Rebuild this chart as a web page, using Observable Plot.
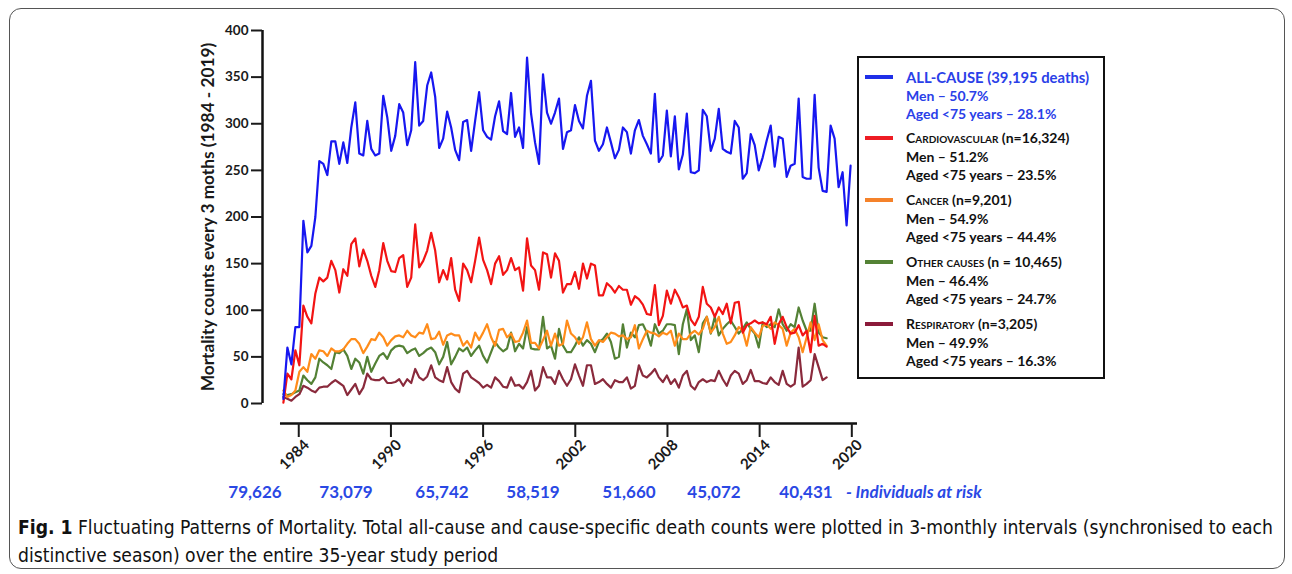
<!DOCTYPE html>
<html><head><meta charset="utf-8">
<script src="https://cdn.jsdelivr.net/npm/d3@7"></script>
<script src="https://cdn.jsdelivr.net/npm/@observablehq/plot@0.6"></script>
<style>
html,body{margin:0;padding:0;background:#fff;}
#fig{position:relative;width:1292px;height:574px;overflow:hidden;font-family:Lato,"Open Sans",sans-serif;color:#111;}
#border{position:absolute;left:9px;top:8px;width:1276px;height:561px;border:1px solid #555;border-radius:12px;box-sizing:border-box;}
#chart{position:absolute;left:0;top:0;}
#chart svg [aria-label$="tick label"] text{font-weight:700;}
#legend{position:absolute;left:857px;top:56px;width:248px;height:323px;border:2.5px solid #111;box-sizing:border-box;}
.lg{position:absolute;white-space:nowrap;font-weight:700;font-size:14px;line-height:18px;}
.sw{position:absolute;width:28px;height:4px;}
.risk{position:absolute;top:481px;font-weight:700;font-size:17px;line-height:22px;color:#2a48e4;white-space:nowrap;}
.cap{position:absolute;left:18px;font-family:"Liberation Sans Narrow","DejaVu Sans Condensed",sans-serif;font-size:19px;line-height:22px;white-space:nowrap;transform-origin:0 0;color:#111;}
</style></head>
<body>
<div id="fig">
  <div id="border"></div>
  <div id="chart"></div>
  <div id="legend"></div>
</div>
<script>
// ---- data (3-monthly death counts) ----
const allCause = [5,60,42,82,82,196,162,169,200,260,257,245,281,281,257,280,258,296,323,268,266,303,273,266,
268,330,307,271,287,321,312,277,293,366,298,303,341,355,329,274,284,313,296,272,261,302,304,271,
303,334,293,286,283,308,324,292,289,333,286,296,274,371,311,280,257,353,312,300,312,327,273,291,
293,320,303,295,330,346,282,271,278,296,280,263,272,296,291,268,293,304,287,278,268,332,259,266,
314,265,308,251,267,311,248,247,250,315,308,271,284,316,273,270,268,303,296,241,247,289,277,250,
264,282,298,254,286,284,243,255,257,327,243,241,241,331,253,228,227,298,284,232,248,191,255];
const cardiovascular = [1,32,26,57,41,105,93,86,118,135,131,135,153,143,119,144,137,171,177,147,165,153,137,125,
143,172,153,142,141,156,159,125,135,192,146,153,164,183,164,130,143,133,156,122,110,150,143,130,
153,178,154,143,128,150,158,138,143,156,143,146,121,177,148,143,122,162,160,135,161,153,119,128,
128,141,123,150,134,150,148,116,116,129,125,119,126,122,122,106,115,112,106,96,95,127,84,94,
121,107,122,114,103,105,90,84,93,125,107,103,93,103,96,107,86,108,109,76,84,86,89,86,
87,85,93,64,85,93,82,75,76,84,73,78,55,94,62,64,61];
const cancer = [14,7,9,14,34,39,34,53,48,57,56,51,59,56,56,58,64,69,69,64,54,61,69,68,
76,71,62,68,72,73,71,78,73,71,76,75,85,69,70,77,63,73,75,73,73,62,67,60,
76,68,76,85,71,62,79,80,71,75,66,67,76,89,65,65,59,68,78,62,75,62,64,89,
75,71,64,71,87,69,62,68,66,71,76,75,72,73,69,71,84,59,69,78,76,75,72,76,
74,78,62,75,69,69,75,78,74,80,93,76,82,93,75,64,66,73,82,78,62,82,76,71,
83,85,80,87,84,80,62,76,80,71,55,71,87,68,85,68,62];
const otherCauses = [10,9,10,12,14,30,25,21,28,48,44,41,37,55,54,58,51,37,48,44,32,50,34,43,
51,54,48,57,61,62,61,54,57,59,51,54,58,60,55,42,50,66,42,50,59,56,60,51,
57,62,51,44,55,66,60,56,59,76,56,64,59,82,59,58,58,93,59,62,48,80,62,55,
55,62,71,62,68,64,55,66,69,75,66,48,50,85,60,76,71,84,85,76,62,85,75,78,
85,85,84,53,85,101,68,73,55,86,93,75,93,73,80,85,89,82,75,80,87,80,75,60,
87,82,85,82,101,85,78,85,82,103,89,78,78,107,76,71,70];
const respiratory = [7,5,3,7,10,19,17,14,12,17,18,18,22,25,22,19,9,15,21,10,17,32,26,25,
25,28,22,22,23,26,19,26,22,37,28,25,29,41,28,25,23,39,23,16,12,32,35,28,
25,22,17,20,17,28,24,18,17,28,19,20,16,23,35,14,19,39,28,28,21,35,26,19,
26,42,30,19,41,41,21,23,26,21,17,25,23,23,28,16,19,41,30,28,32,37,28,23,
30,21,26,17,30,35,19,15,23,26,23,25,24,35,26,19,30,35,32,21,25,36,24,24,
22,21,28,23,20,35,21,18,21,60,18,21,25,53,39,25,28];

const seriesNames = ["Respiratory","Other causes","Cancer","Cardiovascular","All-cause"];
const seriesColors = ["#8a2a3c","#538135","#ff8c1a","#f21414","#1717f0"];
const yTicks = [0,50,100,150,200,250,300,350,400];
const xTickYears = [1984,1990,1996,2002,2008,2014,2020];
const riskLabels = ["79,626","73,079","65,742","58,519","51,660","45,072","40,431"];
const riskSuffix = "- Individuals at risk";
const yLabel = "Mortality counts every 3 moths (1984 - 2019)";

const legendTitles = ["ALL-CAUSE","Cardiovascular","Cancer","Other causes","Respiratory"];
const legendCounts = [" (39,195 deaths)","  (n=16,324)"," (n=9,201)"," (n = 10,465)"," (n=3,205)"];
const legendMen = ["Men – 50.7%","Men – 51.2%","Men – 54.9%","Men – 46.4%","Men – 49.9%"];
const legendAged = ["Aged <75 years – 28.1%","Aged <75 years – 23.5%","Aged <75 years – 44.4%","Aged <75 years – 24.7%","Aged <75 years – 16.3%"];
const legendSwatch = ["#1f2fe8","#ee1c24","#f5822a","#548235","#8b1a3a"];

// ---- layout calibration ----
const FIRST_YEAR = 1983.0, STEP = 0.26;   // x position of each 3-month period
const X_DOMAIN = [1981.64, 2020.37];
const AXIS_START = 1982.81;

const seriesValues = {"Respiratory":respiratory,"Other causes":otherCauses,"Cancer":cancer,"Cardiovascular":cardiovascular,"All-cause":allCause};
const rows = [];
for (const name of seriesNames) seriesValues[name].forEach((v,i) => rows.push({series:name, year:FIRST_YEAR + i*STEP, value:v}));

const chart = Plot.plot({
  width:1292, height:510,
  marginTop:30, marginLeft:262, marginRight:435, marginBottom:87,
  x:{domain:X_DOMAIN, range:[262,857]},
  y:{domain:[0,400], range:[403,30]},
  color:{domain:seriesNames, range:seriesColors},
  style:{fontFamily:"Lato, sans-serif", color:"#1a1a1a", background:"transparent", overflow:"visible"},
  marks:[
    Plot.ruleX([X_DOMAIN[0]], {y1:0, y2:400, strokeWidth:2.5, stroke:"#111"}),
    Plot.ruleY([0], {x1:AXIS_START, x2:X_DOMAIN[1], dy:20, strokeWidth:2.5, stroke:"#111"}),
    Plot.axisY({ticks:yTicks, tickSize:11, tickPadding:3, fontSize:13.5, fontWeight:"bold", strokeWidth:2, label:null}),
    Plot.axisX({ticks:xTickYears, tickFormat:() => "", tickSize:14, strokeWidth:2, label:null}),
    Plot.axisX({ticks:xTickYears, tickFormat:d => String(d), tickSize:0, tickPadding:19, tickRotate:-45, dx:8, fontSize:15, fontWeight:"bold", label:null}),
    Plot.text([yLabel], {frameAnchor:"left", textAnchor:"middle", rotate:-90, dx:-54, dy:-10, fontSize:17.3, fontWeight:"bold", fill:"#1a1a1a"}),
    Plot.line(rows, {x:"year", y:"value", z:"series", stroke:"series", strokeWidth:2.2})
  ]
});
document.getElementById("chart").appendChild(chart);

// ---- legend ----
const fig = document.getElementById("fig");
function add(cls, html, left, top, style){
  const d = document.createElement("div"); d.className = cls; d.innerHTML = html;
  d.style.left = left + "px"; d.style.top = top + "px";
  if (style) Object.assign(d.style, style);
  fig.appendChild(d); return d;
}
const groupCenters = [77,138,200,262,324];
legendTitles.forEach((t,k) => {
  const c = groupCenters[k];
  const col = k === 0 ? "#2a40e8" : "#111";
  const sw = document.createElement("div"); sw.className = "sw";
  sw.style.left = "865px"; sw.style.top = (c-2) + "px"; sw.style.background = legendSwatch[k];
  fig.appendChild(sw);
  const title = k === 0 ? t : `<span style="font-variant:small-caps">${t}</span>`;
  add("lg", title + legendCounts[k], 906, c-9, k === 0 ? {color:col, fontSize:"14.8px"} : {color:col});
  add("lg", legendMen[k], 906, c+10, {color:col});
  add("lg", legendAged[k].replace("<","&lt;"), 906, c+28, {color:col});
});

// ---- individuals at risk ----
const riskCenters = [255,346,442,533,629,714,806];
riskLabels.forEach((r,k) => {
  const d = add("risk", r, riskCenters[k], 481);
  d.style.transform = "translateX(-50%)";
});
add("risk", `<i>${riskSuffix}</i>`, 846, 481);

// ---- caption ----
const cap1 = add("cap", "<b>Fig. 1</b> Fluctuating Patterns of Mortality. Total all-cause and cause-specific death counts were plotted in 3-monthly intervals (synchronised to each", 18, 516);
const cap2 = add("cap", "distinctive season) over the entire 35-year study period", 18, 544);
const w1 = cap1.getBoundingClientRect().width;
const sx = 1255 / w1;
cap1.style.transform = `scaleX(${sx})`;
cap2.style.transform = `scaleX(${sx})`;
</script>
</body></html>
